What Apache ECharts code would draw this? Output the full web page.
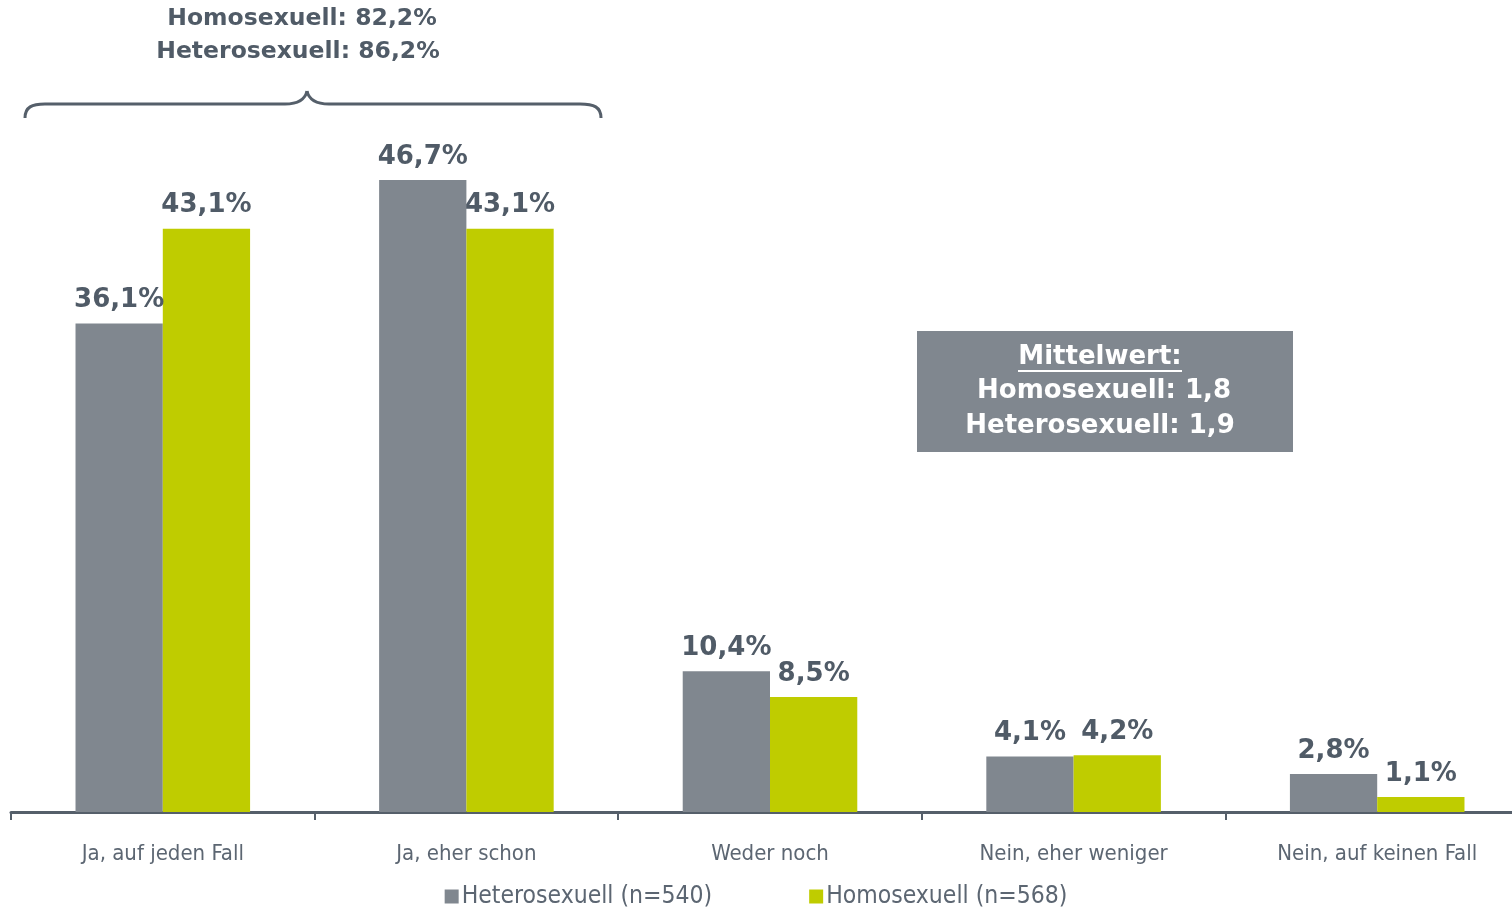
<!DOCTYPE html>
<html>
<head>
<meta charset="utf-8">
<script src="https://cdn.jsdelivr.net/npm/echarts@6/dist/echarts.min.js"></script>
<style>
  html, body { margin: 0; padding: 0; background: #fff; }
  #chart { width: 1512px; height: 909px; }
</style>
</head>
<body>
<div id="chart"></div>
<script>
// Antwortkategorien und Werte in %
const categories = ['Ja, auf jeden Fall', 'Ja, eher schon', 'Weder noch', 'Nein, eher weniger', 'Nein, auf keinen Fall'];
const heteroValues = [36.1, 46.7, 10.4, 4.1, 2.8];
const homoValues = [43.1, 43.1, 8.5, 4.2, 1.1];
const seriesNames = ['Heterosexuell (n=540)', 'Homosexuell (n=568)'];
const summaryLines = ['Homosexuell: 82,2%', 'Heterosexuell: 86,2%'];
const meanLines = ['Mittelwert:', 'Homosexuell: 1,8', 'Heterosexuell: 1,9'];

const textColor = '#505b67';
const lineColor = '#555f6a';
const grey = '#80878f';
const green = '#bfcc00';
const thinFont = 'Liberation Sans Narrow, DejaVu Sans Condensed, sans-serif';
const headFont = 'bold 23.5px "DejaVu Sans", sans-serif';
const boxFont = 'bold 26px "DejaVu Sans", sans-serif';

const chart = echarts.init(document.getElementById('chart'));

const labelFmt = function (p) {
  return p.value.toFixed(1).replace('.', ',') + '%';
};

function braceCurve(x1, y1, cpx1, cpy1, cpx2, cpy2, x2, y2) {
  return {
    type: 'bezierCurve',
    shape: { x1: x1, y1: y1, cpx1: cpx1, cpy1: cpy1, cpx2: cpx2, cpy2: cpy2, x2: x2, y2: y2 },
    style: { fill: 'none', stroke: lineColor, lineWidth: 3 }
  };
}
function braceLine(x1, y1, x2, y2) {
  return {
    type: 'line',
    shape: { x1: x1, y1: y1, x2: x2, y2: y2 },
    style: { stroke: lineColor, lineWidth: 3 }
  };
}
function label(text, x, y, fill, font) {
  return {
    type: 'text', x: x, y: y,
    style: { text: text, textAlign: 'center', textVerticalAlign: 'middle', fill: fill, font: font }
  };
}

const barLabel = { show: true, position: 'top', distance: 10, formatter: labelFmt, color: textColor, fontSize: 26, fontWeight: 'bold', fontFamily: 'DejaVu Sans, sans-serif' };

chart.setOption({
  animation: false,
  grid: { left: 11, top: 0, right: -17, bottom: 97, containLabel: false, outerBoundsMode: 'none' },
  legend: {
    bottom: -5,
    left: 'center',
    itemWidth: 14,
    itemHeight: 14,
    itemGap: 97,
    icon: 'rect',
    data: seriesNames,
    textStyle: { color: '#5c6672', fontSize: 24.5, fontFamily: thinFont, padding: [0, 0, 0, -2] }
  },
  xAxis: {
    type: 'category',
    data: categories,
    axisLine: { lineStyle: { color: lineColor, width: 3 } },
    axisTick: { show: true, length: 8, lineStyle: { color: lineColor, width: 2 } },
    axisLabel: { color: '#5c6672', fontSize: 22, margin: 31, fontFamily: thinFont }
  },
  yAxis: {
    type: 'value',
    min: 0,
    max: 60,
    show: false
  },
  series: [
    {
      name: seriesNames[0],
      type: 'bar',
      data: heteroValues,
      barGap: '0%',
      barCategoryGap: '42.5%',
      itemStyle: { color: grey },
      label: barLabel
    },
    {
      name: seriesNames[1],
      type: 'bar',
      data: homoValues,
      itemStyle: { color: green },
      label: barLabel
    }
  ],
  graphic: [
    // Summe der Zustimmung oben links
    label(summaryLines[0], 302, 19, textColor, headFont),
    label(summaryLines[1], 298, 52, textColor, headFont),
    // geschweifte Klammer
    braceCurve(25, 118, 25, 107, 32, 104, 45, 104),
    braceLine(45, 104, 285, 104),
    braceCurve(285, 104, 298, 104, 305, 100, 307, 91),
    braceCurve(307, 91, 309, 100, 316, 104, 329, 104),
    braceLine(329, 104, 580, 104),
    braceCurve(580, 104, 594, 104, 601, 107, 601, 118),
    // Mittelwert-Box
    {
      type: 'rect',
      shape: { x: 917, y: 331, width: 376, height: 121 },
      style: { fill: grey }
    },
    label(meanLines[0], 1100, 357, '#fff', boxFont),
    {
      type: 'line',
      shape: { x1: 1018, y1: 371, x2: 1182, y2: 371 },
      style: { stroke: '#fff', lineWidth: 2 }
    },
    label(meanLines[1], 1104, 391, '#fff', boxFont),
    label(meanLines[2], 1100, 426, '#fff', boxFont)
  ]
});
</script>
</body>
</html>
